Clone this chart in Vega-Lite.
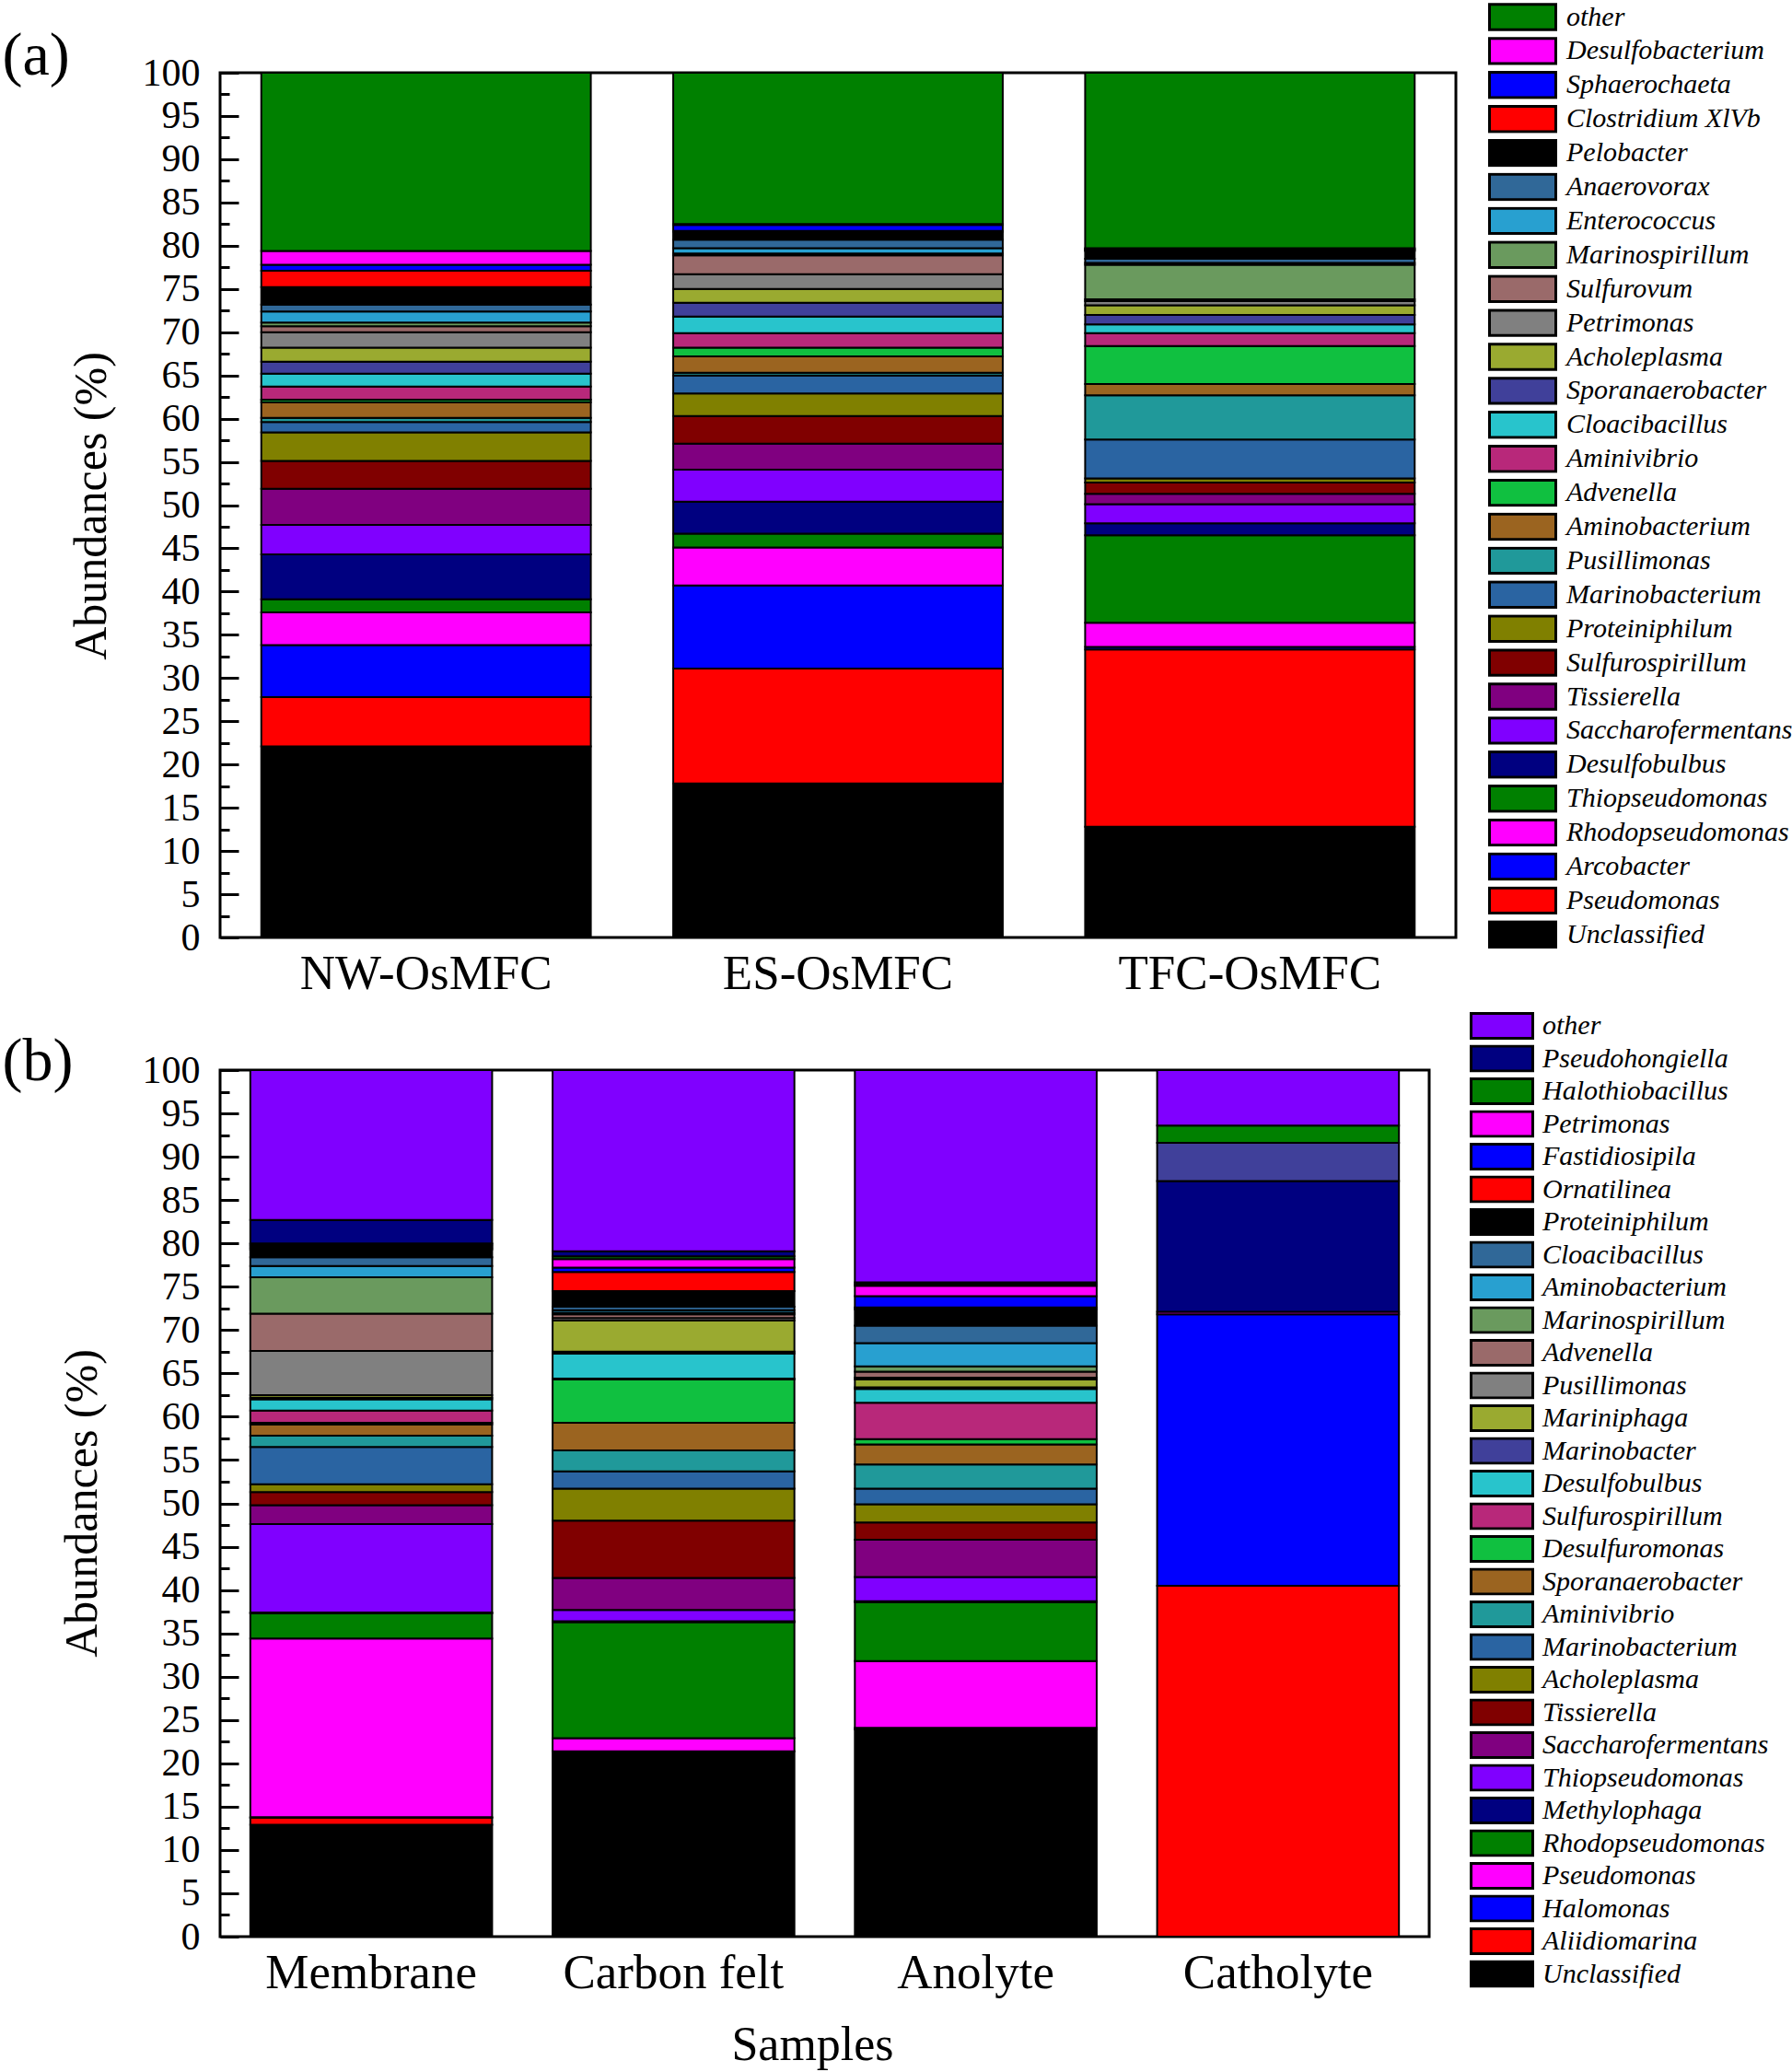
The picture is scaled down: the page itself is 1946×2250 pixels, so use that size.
{
"$schema": "https://vega.github.io/schema/vega-lite/v6.json",
"padding": {"left": 0, "top": 1, "right": 0, "bottom": 0},
"background": "white",
"datasets": {
"A": [
{"s":"NW-OsMFC","t":"Unclassified","k":1,"v":22.1},{"s":"NW-OsMFC","t":"Pseudomonas","k":2,"v":5.7},{"s":"NW-OsMFC","t":"Arcobacter","k":3,"v":6.0},{"s":"NW-OsMFC","t":"Rhodopseudomonas","k":4,"v":3.8},{"s":"NW-OsMFC","t":"Thiopseudomonas","k":5,"v":1.5},{"s":"NW-OsMFC","t":"Desulfobulbus","k":6,"v":5.2},{"s":"NW-OsMFC","t":"Saccharofermentans","k":7,"v":3.4},{"s":"NW-OsMFC","t":"Tissierella","k":8,"v":4.2},{"s":"NW-OsMFC","t":"Sulfurospirillum","k":9,"v":3.2},{"s":"NW-OsMFC","t":"Proteiniphilum","k":10,"v":3.3},{"s":"NW-OsMFC","t":"Marinobacterium","k":11,"v":1.2},{"s":"NW-OsMFC","t":"Pusillimonas","k":12,"v":0.5},{"s":"NW-OsMFC","t":"Aminobacterium","k":13,"v":1.8},{"s":"NW-OsMFC","t":"Advenella","k":14,"v":0.3},{"s":"NW-OsMFC","t":"Aminivibrio","k":15,"v":1.5},{"s":"NW-OsMFC","t":"Cloacibacillus","k":16,"v":1.5},{"s":"NW-OsMFC","t":"Sporanaerobacter","k":17,"v":1.4},{"s":"NW-OsMFC","t":"Acholeplasma","k":18,"v":1.6},{"s":"NW-OsMFC","t":"Petrimonas","k":19,"v":1.8},{"s":"NW-OsMFC","t":"Sulfurovum","k":20,"v":0.7},{"s":"NW-OsMFC","t":"Marinospirillum","k":21,"v":0.4},{"s":"NW-OsMFC","t":"Enterococcus","k":22,"v":1.3},{"s":"NW-OsMFC","t":"Anaerovorax","k":23,"v":0.8},{"s":"NW-OsMFC","t":"Pelobacter","k":24,"v":2.0},{"s":"NW-OsMFC","t":"Clostridium XlVb","k":25,"v":1.9},{"s":"NW-OsMFC","t":"Sphaerochaeta","k":26,"v":0.7},{"s":"NW-OsMFC","t":"Desulfobacterium","k":27,"v":1.6},{"s":"NW-OsMFC","t":"other","k":28,"v":20.6},
{"s":"ES-OsMFC","t":"Unclassified","k":1,"v":17.8},{"s":"ES-OsMFC","t":"Pseudomonas","k":2,"v":13.3},{"s":"ES-OsMFC","t":"Arcobacter","k":3,"v":9.6},{"s":"ES-OsMFC","t":"Rhodopseudomonas","k":4,"v":4.4},{"s":"ES-OsMFC","t":"Thiopseudomonas","k":5,"v":1.6},{"s":"ES-OsMFC","t":"Desulfobulbus","k":6,"v":3.7},{"s":"ES-OsMFC","t":"Saccharofermentans","k":7,"v":3.7},{"s":"ES-OsMFC","t":"Tissierella","k":8,"v":3.0},{"s":"ES-OsMFC","t":"Sulfurospirillum","k":9,"v":3.2},{"s":"ES-OsMFC","t":"Proteiniphilum","k":10,"v":2.6},{"s":"ES-OsMFC","t":"Marinobacterium","k":11,"v":2.1},{"s":"ES-OsMFC","t":"Pusillimonas","k":12,"v":0.3},{"s":"ES-OsMFC","t":"Aminobacterium","k":13,"v":1.9},{"s":"ES-OsMFC","t":"Advenella","k":14,"v":1.0},{"s":"ES-OsMFC","t":"Aminivibrio","k":15,"v":1.7},{"s":"ES-OsMFC","t":"Cloacibacillus","k":16,"v":1.9},{"s":"ES-OsMFC","t":"Sporanaerobacter","k":17,"v":1.6},{"s":"ES-OsMFC","t":"Acholeplasma","k":18,"v":1.6},{"s":"ES-OsMFC","t":"Petrimonas","k":19,"v":1.7},{"s":"ES-OsMFC","t":"Sulfurovum","k":20,"v":2.2},{"s":"ES-OsMFC","t":"Marinospirillum","k":21,"v":0.2},{"s":"ES-OsMFC","t":"Enterococcus","k":22,"v":0.6},{"s":"ES-OsMFC","t":"Anaerovorax","k":23,"v":1.0},{"s":"ES-OsMFC","t":"Pelobacter","k":24,"v":0.9},{"s":"ES-OsMFC","t":"Clostridium XlVb","k":25,"v":0.1},{"s":"ES-OsMFC","t":"Sphaerochaeta","k":26,"v":0.7},{"s":"ES-OsMFC","t":"Desulfobacterium","k":27,"v":0.1},{"s":"ES-OsMFC","t":"other","k":28,"v":17.5},
{"s":"TFC-OsMFC","t":"Unclassified","k":1,"v":12.8},{"s":"TFC-OsMFC","t":"Pseudomonas","k":2,"v":20.5},{"s":"TFC-OsMFC","t":"Arcobacter","k":3,"v":0.3},{"s":"TFC-OsMFC","t":"Rhodopseudomonas","k":4,"v":2.8},{"s":"TFC-OsMFC","t":"Thiopseudomonas","k":5,"v":10.1},{"s":"TFC-OsMFC","t":"Desulfobulbus","k":6,"v":1.4},{"s":"TFC-OsMFC","t":"Saccharofermentans","k":7,"v":2.2},{"s":"TFC-OsMFC","t":"Tissierella","k":8,"v":1.2},{"s":"TFC-OsMFC","t":"Sulfurospirillum","k":9,"v":1.3},{"s":"TFC-OsMFC","t":"Proteiniphilum","k":10,"v":0.5},{"s":"TFC-OsMFC","t":"Marinobacterium","k":11,"v":4.5},{"s":"TFC-OsMFC","t":"Pusillimonas","k":12,"v":5.1},{"s":"TFC-OsMFC","t":"Aminobacterium","k":13,"v":1.3},{"s":"TFC-OsMFC","t":"Advenella","k":14,"v":4.4},{"s":"TFC-OsMFC","t":"Aminivibrio","k":15,"v":1.5},{"s":"TFC-OsMFC","t":"Cloacibacillus","k":16,"v":1.0},{"s":"TFC-OsMFC","t":"Sporanaerobacter","k":17,"v":1.1},{"s":"TFC-OsMFC","t":"Acholeplasma","k":18,"v":1.1},{"s":"TFC-OsMFC","t":"Petrimonas","k":19,"v":0.5},{"s":"TFC-OsMFC","t":"Sulfurovum","k":20,"v":0.2},{"s":"TFC-OsMFC","t":"Marinospirillum","k":21,"v":4.0},{"s":"TFC-OsMFC","t":"Enterococcus","k":22,"v":0.2},{"s":"TFC-OsMFC","t":"Anaerovorax","k":23,"v":0.5},{"s":"TFC-OsMFC","t":"Pelobacter","k":24,"v":0.9},{"s":"TFC-OsMFC","t":"Clostridium XlVb","k":25,"v":0.1},{"s":"TFC-OsMFC","t":"Sphaerochaeta","k":26,"v":0.1},{"s":"TFC-OsMFC","t":"Desulfobacterium","k":27,"v":0.1},{"s":"TFC-OsMFC","t":"other","k":28,"v":20.3}
],
"B": [
{"s":"Membrane","t":"Unclassified","k":1,"v":12.9},{"s":"Membrane","t":"Aliidiomarina","k":2,"v":0.8},{"s":"Membrane","t":"Halomonas","k":3,"v":0.1},{"s":"Membrane","t":"Pseudomonas","k":4,"v":20.6},{"s":"Membrane","t":"Rhodopseudomonas","k":5,"v":2.9},{"s":"Membrane","t":"Methylophaga","k":6,"v":0.1},{"s":"Membrane","t":"Thiopseudomonas","k":7,"v":10.2},{"s":"Membrane","t":"Saccharofermentans","k":8,"v":2.2},{"s":"Membrane","t":"Tissierella","k":9,"v":1.5},{"s":"Membrane","t":"Acholeplasma","k":10,"v":0.9},{"s":"Membrane","t":"Marinobacterium","k":11,"v":4.3},{"s":"Membrane","t":"Aminivibrio","k":12,"v":1.3},{"s":"Membrane","t":"Sporanaerobacter","k":13,"v":1.3},{"s":"Membrane","t":"Desulfuromonas","k":14,"v":0.2},{"s":"Membrane","t":"Sulfurospirillum","k":15,"v":1.4},{"s":"Membrane","t":"Desulfobulbus","k":16,"v":1.3},{"s":"Membrane","t":"Marinobacter","k":17,"v":0.2},{"s":"Membrane","t":"Mariniphaga","k":18,"v":0.3},{"s":"Membrane","t":"Pusillimonas","k":19,"v":5.1},{"s":"Membrane","t":"Advenella","k":20,"v":4.3},{"s":"Membrane","t":"Marinospirillum","k":21,"v":4.2},{"s":"Membrane","t":"Aminobacterium","k":22,"v":1.3},{"s":"Membrane","t":"Cloacibacillus","k":23,"v":1.0},{"s":"Membrane","t":"Proteiniphilum","k":24,"v":0.9},{"s":"Membrane","t":"Ornatilinea","k":25,"v":0.2},{"s":"Membrane","t":"Fastidiosipila","k":26,"v":0.2},{"s":"Membrane","t":"Petrimonas","k":27,"v":0.2},{"s":"Membrane","t":"Halothiobacillus","k":28,"v":0.1},{"s":"Membrane","t":"Pseudohongiella","k":29,"v":2.7},{"s":"Membrane","t":"other","k":30,"v":17.3},
{"s":"Carbon felt","t":"Unclassified","k":1,"v":21.4},{"s":"Carbon felt","t":"Pseudomonas","k":4,"v":1.5},{"s":"Carbon felt","t":"Rhodopseudomonas","k":5,"v":13.4},{"s":"Carbon felt","t":"Methylophaga","k":6,"v":0.1},{"s":"Carbon felt","t":"Thiopseudomonas","k":7,"v":1.3},{"s":"Carbon felt","t":"Saccharofermentans","k":8,"v":3.7},{"s":"Carbon felt","t":"Tissierella","k":9,"v":6.6},{"s":"Carbon felt","t":"Acholeplasma","k":10,"v":3.7},{"s":"Carbon felt","t":"Marinobacterium","k":11,"v":2.0},{"s":"Carbon felt","t":"Aminivibrio","k":12,"v":2.4},{"s":"Carbon felt","t":"Sporanaerobacter","k":13,"v":3.2},{"s":"Carbon felt","t":"Desulfuromonas","k":14,"v":5.0},{"s":"Carbon felt","t":"Sulfurospirillum","k":15,"v":0.1},{"s":"Carbon felt","t":"Desulfobulbus","k":16,"v":2.9},{"s":"Carbon felt","t":"Marinobacter","k":17,"v":0.2},{"s":"Carbon felt","t":"Mariniphaga","k":18,"v":3.6},{"s":"Carbon felt","t":"Pusillimonas","k":19,"v":0.3},{"s":"Carbon felt","t":"Advenella","k":20,"v":0.4},{"s":"Carbon felt","t":"Marinospirillum","k":21,"v":0.2},{"s":"Carbon felt","t":"Aminobacterium","k":22,"v":0.3},{"s":"Carbon felt","t":"Cloacibacillus","k":23,"v":0.4},{"s":"Carbon felt","t":"Proteiniphilum","k":24,"v":1.8},{"s":"Carbon felt","t":"Ornatilinea","k":25,"v":2.2},{"s":"Carbon felt","t":"Fastidiosipila","k":26,"v":0.5},{"s":"Carbon felt","t":"Petrimonas","k":27,"v":1.0},{"s":"Carbon felt","t":"Halothiobacillus","k":28,"v":0.3},{"s":"Carbon felt","t":"Pseudohongiella","k":29,"v":0.6},{"s":"Carbon felt","t":"other","k":30,"v":20.9},
{"s":"Anolyte","t":"Unclassified","k":1,"v":23.9},{"s":"Anolyte","t":"Aliidiomarina","k":2,"v":0.2},{"s":"Anolyte","t":"Pseudomonas","k":4,"v":7.7},{"s":"Anolyte","t":"Rhodopseudomonas","k":5,"v":6.8},{"s":"Anolyte","t":"Methylophaga","k":6,"v":0.1},{"s":"Anolyte","t":"Thiopseudomonas","k":7,"v":2.8},{"s":"Anolyte","t":"Saccharofermentans","k":8,"v":4.3},{"s":"Anolyte","t":"Tissierella","k":9,"v":2.0},{"s":"Anolyte","t":"Acholeplasma","k":10,"v":2.1},{"s":"Anolyte","t":"Marinobacterium","k":11,"v":1.8},{"s":"Anolyte","t":"Aminivibrio","k":12,"v":2.8},{"s":"Anolyte","t":"Sporanaerobacter","k":13,"v":2.3},{"s":"Anolyte","t":"Desulfuromonas","k":14,"v":0.6},{"s":"Anolyte","t":"Sulfurospirillum","k":15,"v":4.2},{"s":"Anolyte","t":"Desulfobulbus","k":16,"v":1.6},{"s":"Anolyte","t":"Marinobacter","k":17,"v":0.2},{"s":"Anolyte","t":"Mariniphaga","k":18,"v":0.9},{"s":"Anolyte","t":"Pusillimonas","k":19,"v":0.2},{"s":"Anolyte","t":"Advenella","k":20,"v":0.7},{"s":"Anolyte","t":"Marinospirillum","k":21,"v":0.6},{"s":"Anolyte","t":"Aminobacterium","k":22,"v":2.7},{"s":"Anolyte","t":"Cloacibacillus","k":23,"v":2.0},{"s":"Anolyte","t":"Proteiniphilum","k":24,"v":1.9},{"s":"Anolyte","t":"Ornatilinea","k":25,"v":0.2},{"s":"Anolyte","t":"Fastidiosipila","k":26,"v":1.3},{"s":"Anolyte","t":"Petrimonas","k":27,"v":1.2},{"s":"Anolyte","t":"Halothiobacillus","k":28,"v":0.2},{"s":"Anolyte","t":"Pseudohongiella","k":29,"v":0.2},{"s":"Anolyte","t":"other","k":30,"v":24.5},
{"s":"Catholyte","t":"Aliidiomarina","k":2,"v":40.5},{"s":"Catholyte","t":"Halomonas","k":3,"v":31.3},{"s":"Catholyte","t":"Pseudomonas","k":4,"v":0.3},{"s":"Catholyte","t":"Methylophaga","k":6,"v":15.1},{"s":"Catholyte","t":"Marinobacter","k":17,"v":4.4},{"s":"Catholyte","t":"Halothiobacillus","k":28,"v":2.0},{"s":"Catholyte","t":"other","k":30,"v":6.4}
]
},
"config": {
"font": "Liberation Serif",
"view": {"stroke": "black", "strokeWidth": 3},
"axis": {"labelFont": "Liberation Serif", "titleFont": "Liberation Serif", "labelColor": "black", "titleColor": "black", "titleFontWeight": "normal", "grid": false, "domain": false},
"title": {"font": "Liberation Serif", "fontWeight": "normal", "color": "black"}
},
"columns": 1,
"spacing": 11,
"resolve": {"scale": {"color": "independent"}, "legend": {"color": "independent"}},
"concat": [
{
"width": 1342, "height": 939,
"data": {"name": "A"},
"encoding": {
"x": {"field": "s", "type": "nominal", "sort": ["NW-OsMFC", "ES-OsMFC", "TFC-OsMFC"], "scale": {"paddingInner": 0.2, "paddingOuter": 0.1}, "axis": {"title": "(a)", "titleX": -237, "titleY": -938, "titleAlign": "left", "titleBaseline": "alphabetic", "titleAngle": 0, "titleFontSize": 66, "labelAngle": 0, "labelFontSize": 53, "labelLimit": 600, "ticks": false, "labelPadding": 13}},
"color": {"field": "t", "type": "nominal",
 "scale": {"domain": ["other","Desulfobacterium","Sphaerochaeta","Clostridium XlVb","Pelobacter","Anaerovorax","Enterococcus","Marinospirillum","Sulfurovum","Petrimonas","Acholeplasma","Sporanaerobacter","Cloacibacillus","Aminivibrio","Advenella","Aminobacterium","Pusillimonas","Marinobacterium","Proteiniphilum","Sulfurospirillum","Tissierella","Saccharofermentans","Desulfobulbus","Thiopseudomonas","Rhodopseudomonas","Arcobacter","Pseudomonas","Unclassified"],
  "range": ["#008000","#FF00FF","#0000FF","#FF0000","#000000","#306898","#28A0D0","#6A9A5E","#9A6A6A","#808080","#9AAA30","#40409A","#28C4CC","#B8287A","#10C040","#9B6420","#20999A","#2A64A2","#808000","#800000","#800080","#8000FF","#000080","#008000","#FF00FF","#0000FF","#FF0000","#000000"]},
 "legend": {"title": null, "orient": "none", "legendX": 1377, "legendY": -76, "padding": 0, "symbolType": "M-1,-0.38H1V0.38H-1Z", "symbolSize": 5184, "symbolStrokeColor": "black", "symbolStrokeWidth": 3, "symbolOpacity": 1, "symbolOffset": 0, "labelFont": "Liberation Serif", "labelFontStyle": "italic", "labelFontSize": 30, "labelColor": "black", "labelOffset": 10, "labelLimit": 400, "clipHeight": 31, "rowPadding": 5.9}},
"order": {"field": "k", "type": "quantitative"}
},
"layer": [
{"mark": {"type": "bar", "stroke": "black", "strokeWidth": 2},
 "encoding": {"y": {"field": "v", "type": "quantitative", "stack": "zero", "scale": {"domain": [0, 100], "nice": false},
 "axis": {"title": "Abundances (%)", "titleFontSize": 50, "titleX": -115, "titleY": 470, "titleAngle": -90, "titleAlign": "center", "titleBaseline": "bottom", "values": [0,5,10,15,20,25,30,35,40,45,50,55,60,65,70,75,80,85,90,95,100], "labelOverlap": false, "labelFlush": false, "labelBound": false, "labelFontSize": 42, "labelPadding": 42, "tickSize": -20, "tickWidth": 3, "tickColor": "black"}}}},
{"mark": {"type": "bar", "opacity": 0},
 "encoding": {"y": {"field": "v", "type": "quantitative", "stack": "zero", "scale": {"domain": [0, 100], "nice": false},
 "axis": {"orient": "left", "title": null, "labels": false, "values": [2.5,7.5,12.5,17.5,22.5,27.5,32.5,37.5,42.5,47.5,52.5,57.5,62.5,67.5,72.5,77.5,82.5,87.5,92.5,97.5], "tickSize": -10, "tickWidth": 3, "tickColor": "black"}}}}
],
"resolve": {"axis": {"y": "independent"}}
},
{
"width": 1313, "height": 941,
"data": {"name": "B"},
"title": {"text": "Samples", "orient": "bottom", "anchor": "middle", "frame": "group", "fontSize": 52, "offset": 27, "dx": -13},
"encoding": {
"x": {"field": "s", "type": "nominal", "sort": ["Membrane", "Carbon felt", "Anolyte", "Catholyte"], "scale": {"paddingInner": 0.2, "paddingOuter": 0.1}, "axis": {"title": "(b)", "titleX": -237, "titleY": -931, "titleAlign": "left", "titleBaseline": "alphabetic", "titleAngle": 0, "titleFontSize": 66, "labelAngle": 0, "labelFontSize": 53, "labelLimit": 600, "ticks": false, "labelPadding": 13}},
"color": {"field": "t", "type": "nominal",
 "scale": {"domain": ["other","Pseudohongiella","Halothiobacillus","Petrimonas","Fastidiosipila","Ornatilinea","Proteiniphilum","Cloacibacillus","Aminobacterium","Marinospirillum","Advenella","Pusillimonas","Mariniphaga","Marinobacter","Desulfobulbus","Sulfurospirillum","Desulfuromonas","Sporanaerobacter","Aminivibrio","Marinobacterium","Acholeplasma","Tissierella","Saccharofermentans","Thiopseudomonas","Methylophaga","Rhodopseudomonas","Pseudomonas","Halomonas","Aliidiomarina","Unclassified"],
  "range": ["#8000FF","#000080","#008000","#FF00FF","#0000FF","#FF0000","#000000","#306898","#28A0D0","#6A9A5E","#9A6A6A","#808080","#9AAA30","#40409A","#28C4CC","#B8287A","#10C040","#9B6420","#20999A","#2A64A2","#808000","#800000","#800080","#8000FF","#000080","#008000","#FF00FF","#0000FF","#FF0000","#000000"]},
 "legend": {"title": null, "orient": "none", "legendX": 1357, "legendY": -63, "padding": 0, "symbolType": "M-1,-0.4H1V0.4H-1Z", "symbolSize": 4489, "symbolStrokeColor": "black", "symbolStrokeWidth": 3, "symbolOpacity": 1, "symbolOffset": 0, "labelFont": "Liberation Serif", "labelFontStyle": "italic", "labelFontSize": 30, "labelColor": "black", "labelOffset": 9, "labelLimit": 400, "clipHeight": 30, "rowPadding": 5.5}},
"order": {"field": "k", "type": "quantitative"}
},
"layer": [
{"mark": {"type": "bar", "stroke": "black", "strokeWidth": 2},
 "encoding": {"y": {"field": "v", "type": "quantitative", "stack": "zero", "scale": {"domain": [0, 100], "nice": false},
 "axis": {"title": "Abundances (%)", "titleFontSize": 50, "titleX": -125, "titleY": 470, "titleAngle": -90, "titleAlign": "center", "titleBaseline": "bottom", "values": [0,5,10,15,20,25,30,35,40,45,50,55,60,65,70,75,80,85,90,95,100], "labelOverlap": false, "labelFlush": false, "labelBound": false, "labelFontSize": 42, "labelPadding": 42, "tickSize": -20, "tickWidth": 3, "tickColor": "black"}}}},
{"mark": {"type": "bar", "opacity": 0},
 "encoding": {"y": {"field": "v", "type": "quantitative", "stack": "zero", "scale": {"domain": [0, 100], "nice": false},
 "axis": {"orient": "left", "title": null, "labels": false, "values": [2.5,7.5,12.5,17.5,22.5,27.5,32.5,37.5,42.5,47.5,52.5,57.5,62.5,67.5,72.5,77.5,82.5,87.5,92.5,97.5], "tickSize": -10, "tickWidth": 3, "tickColor": "black"}}}}
],
"resolve": {"axis": {"y": "independent"}}
}
]
}
